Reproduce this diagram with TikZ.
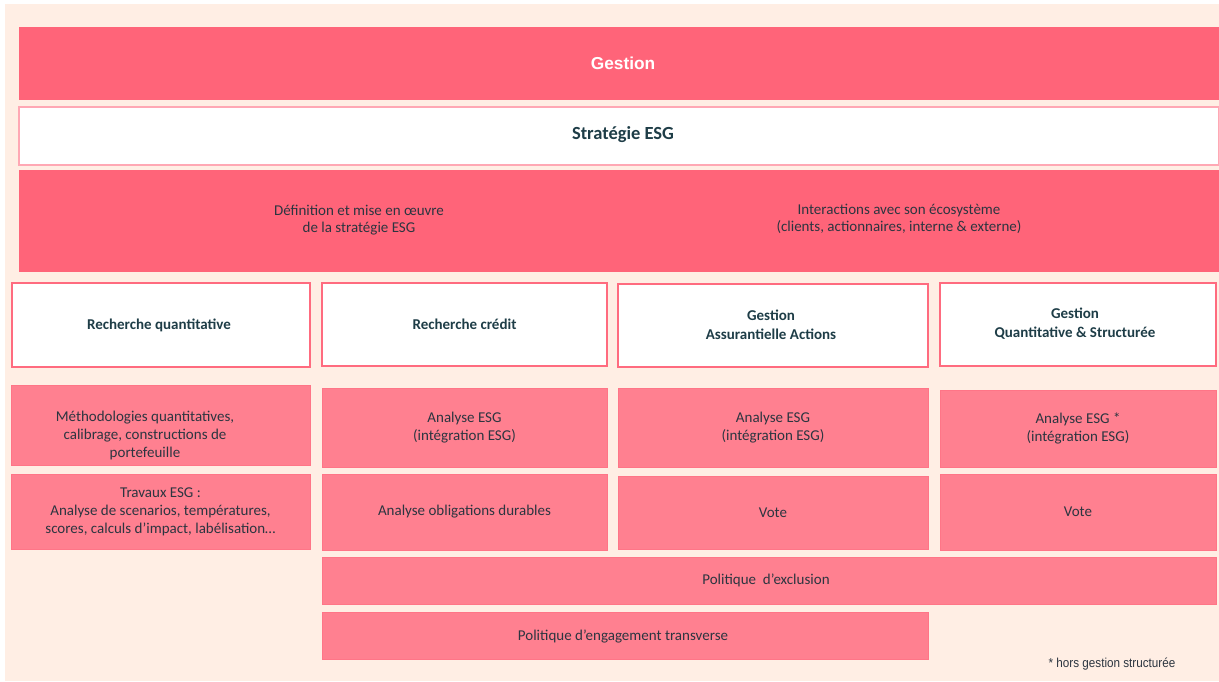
\documentclass[tikz,border=0pt]{standalone}
\usepackage{fontspec}
\setmainfont{Carlito}
\newfontfamily\arialf{Liberation Sans}
\newfontfamily\narrowf[FakeStretch=0.9]{Liberation Sans}
\usetikzlibrary{calc}
\definecolor{cream}{HTML}{FFEEE4}
\definecolor{band}{HTML}{FF6479}
\definecolor{lightbox}{HTML}{FF8090}
\definecolor{lightedge}{HTML}{FF7587}
\definecolor{hdredge}{HTML}{FF6B7F}
\definecolor{stredge}{HTML}{FFA8B4}
\definecolor{txt}{HTML}{2C3540}
\definecolor{hdrtxt}{HTML}{1E3D47}
\tikzset{
  x=1pt,y=-1pt,
  base/.style={inner sep=0pt,outer sep=0pt,align=center,anchor=center},
  bandbox/.style={base,fill=band},
  hdrbox/.style={base,fill=white,draw=hdredge,line width=1.2pt,text=hdrtxt,font=\fontsize{15}{18.5}\selectfont\bfseries},
  cellbox/.style={base,fill=lightbox,draw=lightedge,line width=0.8pt,text=txt,font=\fontsize{15}{18}\selectfont},
  bodytext/.style={base,text=txt,font=\fontsize{15}{17.5}\selectfont},
}
\begin{document}
\begin{tikzpicture}
\useasboundingbox (0,0) rectangle (1219,682);
\fill[cream] (5,4) rectangle (1219,681);
% top bands
\node[bandbox,minimum width=1200,minimum height=73] (gestion) at (619,63.5) {};
\node[base,text=white,font=\arialf\fontsize{17.3}{19}\selectfont\bfseries] (gestiont) at (623,63) {Gestion};
\node[base,fill=white,draw=stredge,line width=1.2pt,minimum width=1200,minimum height=58] (strat) at (619,136) {};
\node[base,text=hdrtxt,font=\fontsize{18.5}{20}\selectfont\bfseries] (stratt) at (623,135) {Stratégie ESG};
\node[bandbox,minimum width=1200,minimum height=102] (def) at (619,221) {};
\node[bodytext] (deft) at (359,220) {Définition et mise en œuvre\\de la stratégie ESG};
\node[bodytext] (intt) at (899,219) {Interactions avec son écosystème\\(clients, actionnaires, interne \& externe)};
% column headers
\node[hdrbox,minimum width=298,minimum height=84] (h1) at (161,325) {};
\node[base,text=hdrtxt,font=\fontsize{15}{18.5}\selectfont\bfseries] (h1t) at (159,325) {Recherche quantitative};
\node[hdrbox,minimum width=285,minimum height=83] (h2) at (464.5,324.5) {Recherche crédit};
\node[hdrbox,minimum width=310,minimum height=83] (h3) at (773,325.5) {};
\node[base,text=hdrtxt,font=\fontsize{15}{18.5}\selectfont\bfseries] (h3t) at (771,325) {Gestion\\Assurantielle Actions};
\node[hdrbox,minimum width=276,minimum height=83] (h4) at (1078,324.5) {};
\node[base,text=hdrtxt,font=\fontsize{15}{18.5}\selectfont\bfseries] (h4t) at (1075,323.5) {Gestion\\Quantitative \& Structurée};
% column 1
\node[cellbox,minimum width=299,minimum height=80] (m1) at (160.5,425) {};
\node[bodytext,font=\fontsize{15}{18}\selectfont] (m1t) at (145,435) {Méthodologies quantitatives,\\calibrage, constructions de\\portefeuille};
\node[cellbox,minimum width=299,minimum height=75] (t1) at (160.5,511.5) {Travaux ESG :\\Analyse de scenarios, températures,\\scores, calculs d’impact, labélisation…};
% column 2
\node[cellbox,minimum width=285,minimum height=79] (a2) at (464.5,427.5) {Analyse ESG\\(intégration ESG)};
\node[cellbox,minimum width=285,minimum height=76] (o2) at (464.5,512) {Analyse obligations durables};
% column 3
\node[cellbox,minimum width=310,minimum height=79] (a3) at (773,427.5) {Analyse ESG\\(intégration ESG)};
\node[cellbox,minimum width=310,minimum height=73] (v3) at (773,512.5) {Vote};
% column 4
\node[cellbox,minimum width=276,minimum height=77] (a4) at (1078,428.5) {Analyse ESG *\\(intégration ESG)};
\node[cellbox,minimum width=276,minimum height=76] (v4) at (1078,512) {Vote};
% bottom rows
\node[cellbox,minimum width=894,minimum height=47] (excl) at (769,580.5) {};
\node[bodytext] (exclt) at (766,580) {Politique\ \ d’exclusion};
\node[cellbox,minimum width=606,minimum height=47] (eng) at (625,635.5) {};
\node[bodytext] (engt) at (623,636) {Politique d’engagement transverse};
% footnote
\node[base,text=txt,font=\narrowf\fontsize{13}{14}\selectfont] (foot) at (1112,664) {* hors gestion structurée};
\end{tikzpicture}
\end{document}
